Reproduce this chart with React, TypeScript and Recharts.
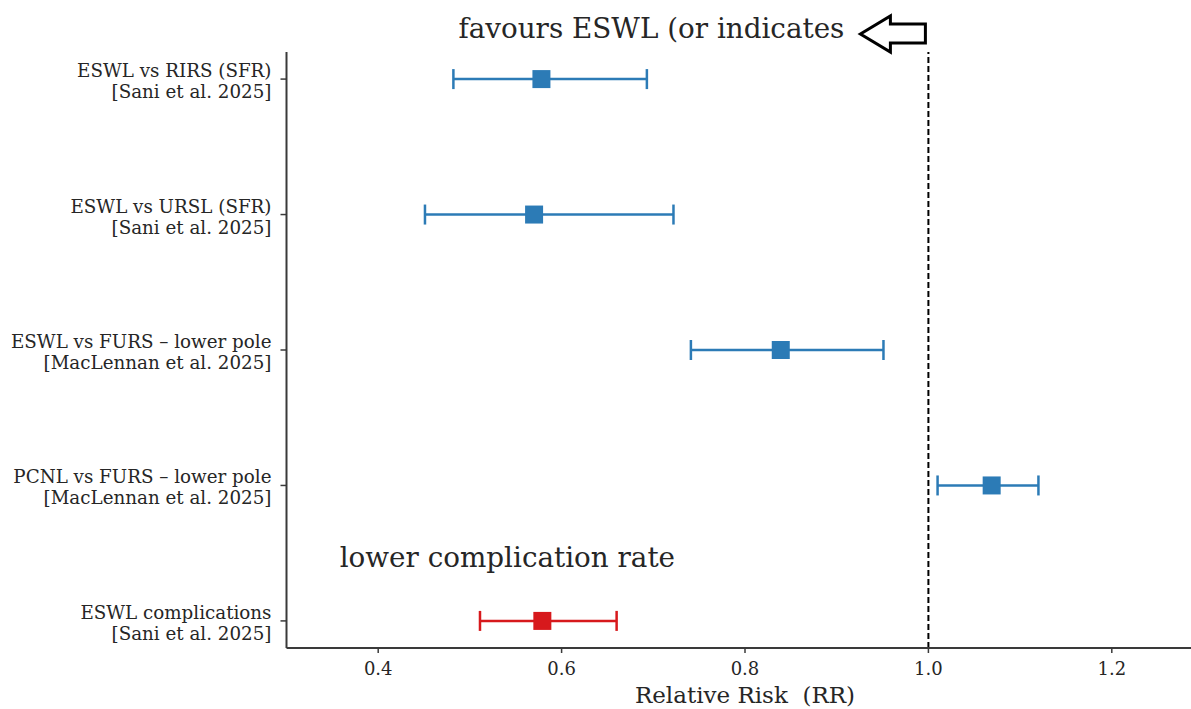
import React from 'react';
import {
  ScatterChart,
  Scatter,
  XAxis,
  YAxis,
  ErrorBar,
  ReferenceLine,
  ReferenceDot,
} from 'recharts';

// Row labels (top to bottom)
const comparisons = [
  'ESWL vs RIRS (SFR)',
  'ESWL vs URSL (SFR)',
  'ESWL vs FURS – lower pole',
  'PCNL vs FURS – lower pole',
  'ESWL complications',
];
const sources = [
  '[Sani et al. 2025]',
  '[Sani et al. 2025]',
  '[MacLennan et al. 2025]',
  '[MacLennan et al. 2025]',
  '[Sani et al. 2025]',
];

// Stone-free rate comparisons
const efficacyRows = [0, 1, 2, 3];
const efficacyRR = [0.578, 0.57, 0.839, 1.069];
const efficacyLow = [0.482, 0.451, 0.741, 1.01];
const efficacyHigh = [0.693, 0.722, 0.951, 1.12];

// Complication rate
const complicationRows = [4];
const complicationRR = [0.579];
const complicationLow = [0.511];
const complicationHigh = [0.66];

const xTicks = [0.4, 0.6, 0.8, 1.0, 1.2];
const rowTicks = [0, 1, 2, 3, 4];

const BLUE = '#2c7bb6';
const RED = '#d7191c';
const INK = '#262626';
const AXIS = '#3a3a3a';
const SERIF = '"DejaVu Serif", serif';

type Row = { row: number; rr: number; ci: [number, number] };

function buildRows(rows: number[], rr: number[], lo: number[], hi: number[]): Row[] {
  return rows.map((row, i) => ({
    row,
    rr: rr[i],
    ci: [rr[i] - lo[i], hi[i] - rr[i]],
  }));
}

const efficacyData = buildRows(efficacyRows, efficacyRR, efficacyLow, efficacyHigh);
const complicationData = buildRows(
  complicationRows,
  complicationRR,
  complicationLow,
  complicationHigh
);

const squareMarker = (color: string) => (props: any) => {
  const { cx, cy } = props;
  if (cx == null || cy == null) return <g />;
  return <rect x={cx - 9} y={cy - 9} width={18} height={18} fill={color} />;
};

function RowTick(props: any) {
  const { x, y, payload } = props;
  const i = payload.value as number;
  return (
    <text textAnchor="end" fontFamily={SERIF} fontSize={18.3} fill={INK}>
      <tspan x={x} y={y - 2}>
        {comparisons[i]}
      </tspan>
      <tspan x={x} y={y + 19}>
        {sources[i]}
      </tspan>
    </text>
  );
}

// Heading text with the hollow left-pointing arrow, anchored at RR = 1
const HeadingMark = (props: any) => {
  const { cx, cy } = props;
  if (cx == null || cy == null) return <g />;
  const pts = [
    [cx - 68, cy],
    [cx - 38, cy - 18],
    [cx - 38, cy - 10],
    [cx - 3, cy - 10],
    [cx - 3, cy + 9],
    [cx - 38, cy + 9],
    [cx - 38, cy + 18],
  ]
    .map((p) => p.join(','))
    .join(' ');
  return (
    <g>
      <text
        x={cx - 84}
        y={cy + 4}
        textAnchor="end"
        fontFamily={SERIF}
        fontSize={27.8}
        fill={INK}
      >
        favours ESWL (or indicates
      </text>
      <polygon points={pts} fill="#fff" stroke="#000" strokeWidth={3} strokeLinejoin="miter" />
    </g>
  );
};

const SubheadingMark = (props: any) => {
  const { cx, cy } = props;
  if (cx == null || cy == null) return <g />;
  return (
    <text x={cx} y={cy} textAnchor="start" fontFamily={SERIF} fontSize={27.8} fill={INK}>
      lower complication rate
    </text>
  );
};

export default function App() {
  return (
    <div
      style={{
        position: 'fixed',
        left: 0,
        top: 0,
        width: 1191,
        height: 709,
        overflow: 'hidden',
        background: '#fff',
      }}
    >
      <ScatterChart
        width={1230}
        height={740}
        margin={{ top: 52, right: 26.5, bottom: 52, left: 6.5 }}
      >
        <XAxis
          type="number"
          dataKey="rr"
          domain={[0.3, 1.3]}
          allowDataOverflow
          ticks={xTicks}
          tickFormatter={(v: number) => v.toFixed(1)}
          height={40}
          tickSize={5}
          tickMargin={9}
          axisLine={{ stroke: AXIS, strokeWidth: 2 }}
          tickLine={{ stroke: AXIS, strokeWidth: 1.5 }}
          tick={{ fontFamily: SERIF, fontSize: 18, fill: INK }}
          label={{
            value: 'Relative Risk\u00a0 (RR)',
            position: 'bottom',
            offset: -1,
            style: { fontFamily: SERIF, fontSize: 23, fill: INK },
          }}
        />
        <YAxis
          type="number"
          dataKey="row"
          domain={[-0.2, 4.2]}
          allowDataOverflow
          reversed
          ticks={rowTicks}
          width={280}
          tickSize={6}
          tickMargin={9}
          axisLine={{ stroke: AXIS, strokeWidth: 2 }}
          tickLine={{ stroke: AXIS, strokeWidth: 1.5 }}
          tick={<RowTick />}
          interval={0}
        />
        <ReferenceLine
          x={1}
          stroke="#000"
          strokeWidth={2}
          strokeDasharray="6 3"
          ifOverflow="visible"
        />
        <Scatter
          name="Stone-free rate"
          data={efficacyData}
          fill={BLUE}
          shape={squareMarker(BLUE)}
          isAnimationActive={false}
        >
          <ErrorBar
            dataKey="ci"
            direction="x"
            width={10}
            stroke={BLUE}
            strokeWidth={2.5}
            isAnimationActive={false}
          />
        </Scatter>
        <Scatter
          name="Complications"
          data={complicationData}
          fill={RED}
          shape={squareMarker(RED)}
          isAnimationActive={false}
        >
          <ErrorBar
            dataKey="ci"
            direction="x"
            width={10}
            stroke={RED}
            strokeWidth={2.5}
            isAnimationActive={false}
          />
        </Scatter>
        <ReferenceDot x={1} y={-0.333} r={0} ifOverflow="visible" shape={HeadingMark} />
        <ReferenceDot x={0.358} y={3.602} r={0} ifOverflow="visible" shape={SubheadingMark} />
      </ScatterChart>
    </div>
  );
}
